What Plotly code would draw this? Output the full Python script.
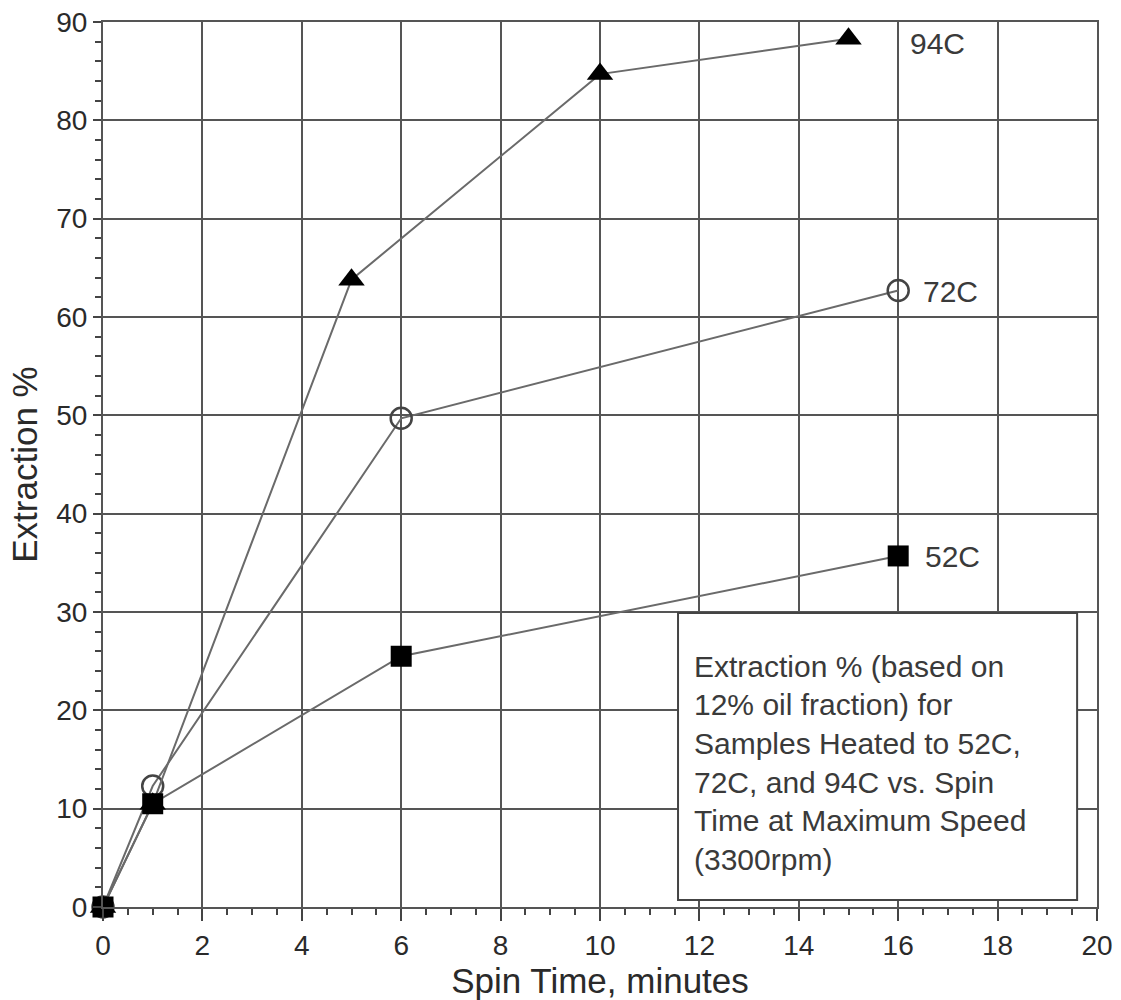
import plotly.graph_objects as go

# ---- data ----
time_52 = [0, 1, 6, 16]
ext_52 = [0, 10.5, 25.5, 35.7]

time_72 = [0, 1, 6, 16]
ext_72 = [0, 12.3, 49.7, 62.7]

time_94 = [0, 1, 5, 10, 15]
ext_94 = [0, 10.5, 63.8, 84.7, 88.3]

series_labels = ["94C", "72C", "52C"]
note_lines = [
    "Extraction % (based on",
    "12% oil fraction) for",
    "Samples Heated to 52C,",
    "72C, and 94C vs. Spin",
    "Time at Maximum Speed",
    "(3300rpm)",
]
x_ticks = list(range(0, 21, 2))
y_ticks = list(range(0, 91, 10))

FONT = "Liberation Sans, Arial, sans-serif"
TXT = "#2a2a2a"
LINE = "#6a6a6a"

fig = go.Figure()

fig.add_trace(go.Scatter(
    x=time_72, y=ext_72, mode="lines+markers", name="72C",
    line=dict(color=LINE, width=2),
    marker=dict(symbol="circle-open", size=21, color="#444", line=dict(width=2.5)),
    cliponaxis=False, showlegend=False))
fig.add_trace(go.Scatter(
    x=time_94, y=ext_94, mode="lines+markers", name="94C",
    line=dict(color=LINE, width=2),
    marker=dict(symbol="triangle-up", size=23, color="#000"),
    cliponaxis=False, showlegend=False))
fig.add_trace(go.Scatter(
    x=time_52, y=ext_52, mode="lines+markers", name="52C",
    line=dict(color=LINE, width=2),
    marker=dict(symbol="square", size=21, color="#000"),
    cliponaxis=False, showlegend=False))

# note box
fig.add_shape(type="rect", xref="x", yref="y", x0=11.57, x1=19.6, y0=0.7, y1=29.9,
              fillcolor="white", line=dict(color="#444", width=2), layer="above")

for i, line in enumerate(note_lines):
    fig.add_annotation(xref="x", yref="y", x=11.85, y=24.5 - i * 3.93, text=line,
                       showarrow=False, xanchor="left", yanchor="middle",
                       font=dict(family=FONT, size=30, color="#3a3a3a"))

# series labels
label_pos = {"94C": (16.2, 87.8), "72C": (16.45, 62.6), "52C": (16.5, 35.6)}
for lab in series_labels:
    lx, ly = label_pos[lab]
    fig.add_annotation(xref="x", yref="y", x=lx, y=ly, text=lab, showarrow=False,
                       xanchor="left", yanchor="middle",
                       font=dict(family=FONT, size=30, color="#3a3a3a"))

axis_common = dict(
    showgrid=True, gridcolor="#555", gridwidth=2,
    zeroline=False, showline=True, linecolor="#555", linewidth=2, mirror=True,
    ticks="outside", tickcolor="#444", tickwidth=2,
    tickfont=dict(family=FONT, size=28, color=TXT),
)

fig.update_xaxes(
    range=[0, 20], tickvals=x_ticks, ticklen=12,
    minor=dict(dtick=0.5, ticks="outside", ticklen=6, tickcolor="#444", tickwidth=2, showgrid=False),
    title=dict(text="Spin Time, minutes", font=dict(family=FONT, size=35, color=TXT), standoff=4),
    **axis_common)
fig.update_yaxes(
    range=[0, 90], tickvals=y_ticks, ticklen=8,
    minor=dict(dtick=2, ticks="outside", ticklen=6, tickcolor="#444", tickwidth=2, showgrid=False),
    title=dict(text="Extraction %", font=dict(family=FONT, size=35, color=TXT), standoff=8),
    **axis_common)

fig.update_layout(
    width=1121, height=1000,
    margin=dict(l=103, r=24, t=22, b=93, autoexpand=False),
    plot_bgcolor="white", paper_bgcolor="white",
)

fig.write_html("out.html")
